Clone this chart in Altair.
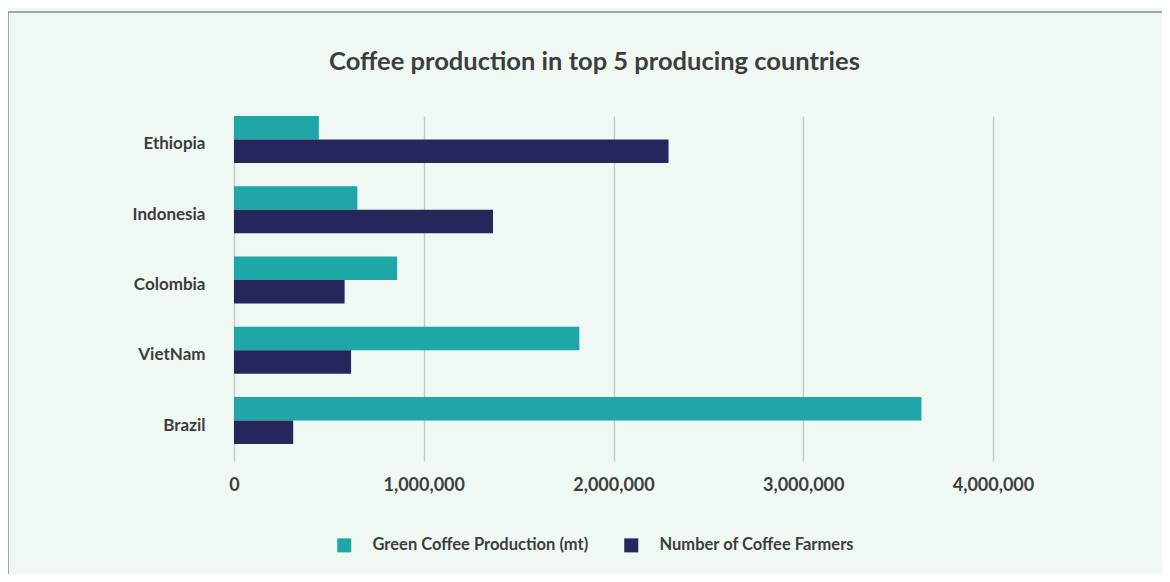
import altair as alt
import pandas as pd

countries = ["Ethiopia", "Indonesia", "Colombia", "VietNam", "Brazil"]
production_mt = [447000, 650000, 860000, 1820000, 3623000]
coffee_farmers = [2290000, 1365000, 583000, 617000, 312000]
series_names = ["Green Coffee Production (mt)", "Number of Coffee Farmers"]
x_ticks = [0, 1000000, 2000000, 3000000, 4000000]

rows = []
for c, p, f in zip(countries, production_mt, coffee_farmers):
    rows.append({"country": c, "series": series_names[0], "value": p})
    rows.append({"country": c, "series": series_names[1], "value": f})
df = pd.DataFrame(rows)

FONT = "Lato"
TEXT = "#3d3d3d"
BG = "#f0f8f3"

frame = alt.Chart(alt.Data(values=[{"a": 1}])).mark_rect(
    fill="transparent", stroke="#8c8c8c", strokeWidth=1.5, clip=False
).encode(
    x=alt.value(-226), x2=alt.value(1200),
    y=alt.value(-104), y2=alt.value(700)
)

bars = alt.Chart(df).mark_bar().encode(
    y=alt.Y("country:N", sort=countries, title=None,
            scale=alt.Scale(paddingInner=0.331, paddingOuter=0.121, align=0),
            axis=alt.Axis(domain=False, ticks=False, labelPadding=29, labelOffset=5,
                          labelFont=FONT, labelFontSize=17, labelFontWeight="bold",
                          labelColor=TEXT, grid=False)),
    yOffset=alt.YOffset("series:N", sort=series_names,
                        scale=alt.Scale(paddingInner=0, paddingOuter=0)),
    x=alt.X("value:Q", title=None,
            scale=alt.Scale(domain=[0, 4000000], nice=False),
            axis=alt.Axis(values=x_ticks, format=",.0f", domain=False, ticks=False,
                          grid=True, gridColor="#c9c9c9", gridWidth=1.5,
                          labelFlush=False,
                          labelPadding=15, labelFont=FONT, labelFontSize=18,
                          labelFontWeight="bold", labelColor=TEXT)),
    color=alt.Color("series:N", sort=series_names, title=None,
                    scale=alt.Scale(domain=series_names, range=["#1fa6a6", "#24265c"]),
                    legend=alt.Legend(orient="none", direction="horizontal",
                                      legendX=102, legendY=421,
                                      symbolType="square", symbolSize=196,
                                      symbolStrokeWidth=0, labelOffset=20,
                                      columnPadding=34, labelLimit=400,
                                      labelFont=FONT,
                                      labelFontSize=16.5, labelFontWeight="bold",
                                      labelColor=TEXT)),
)

chart = alt.layer(frame, bars).properties(
    width=759,
    height=345,
    padding={"left": 226, "top": 108, "right": 169, "bottom": 113},
    autosize=alt.AutoSizeParams(type="none"),
    background=BG,
    title=alt.Title("Coffee production in top 5 producing countries",
                    anchor="middle", frame="group", dx=-19, offset=-64,
                    font=FONT, fontSize=25.5, fontWeight="bold", color=TEXT),
).configure_view(stroke="transparent")

chart.save("out.html", embed_options={"renderer": "svg", "actions": False})
